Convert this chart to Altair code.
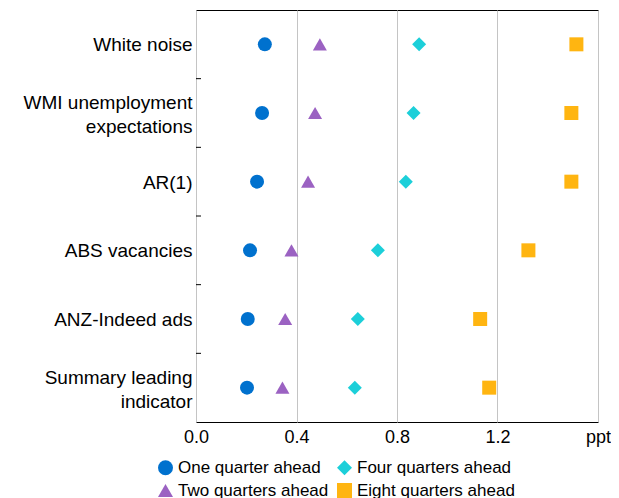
import altair as alt
import pandas as pd

# ---- data ----
categories = [
    "White noise",
    "WMI unemployment expectations",
    "AR(1)",
    "ABS vacancies",
    "ANZ-Indeed ads",
    "Summary leading indicator",
]
one_quarter = [0.274, 0.263, 0.243, 0.215, 0.206, 0.203]
two_quarters = [0.493, 0.474, 0.446, 0.380, 0.355, 0.344]
four_quarters = [0.888, 0.866, 0.835, 0.724, 0.644, 0.632]
eight_quarters = [1.514, 1.494, 1.494, 1.323, 1.131, 1.167]

series_names = ["One quarter ahead", "Two quarters ahead", "Four quarters ahead", "Eight quarters ahead"]
series_colors = ["#0071CE", "#9B62C2", "#1CCFD9", "#FFB511"]
series_shapes = ["circle", "triangle-up", "diamond", "square"]
x_ticks = [0.0, 0.4, 0.8, 1.2, 1.6]
x_unit = "ppt"
chart_title = "Models containing only the specified variable"

rows = []
for name, vals in zip(series_names, [one_quarter, two_quarters, four_quarters, eight_quarters]):
    for cat, v in zip(categories, vals):
        rows.append({"category": cat, "series": name, "value": v})
df = pd.DataFrame(rows)

tick_df = pd.DataFrame({"category": categories[1:]})

label_expr = (
    "datum.label == 'WMI unemployment expectations' ? ['WMI unemployment\u00a0', 'expectations'] : "
    "datum.label == 'Summary leading indicator' ? ['Summary leading\u00a0', 'indicator'] : datum.label"
)
multiline_test = "datum.value == 'WMI unemployment expectations' || datum.value == 'Summary leading indicator'"

FONT = "Liberation Sans"

y_axis = alt.Axis(
    title=None,
    labelFontSize=19,
    labelFont=FONT,
    labelColor="black",
    ticks=False,
    domain=False,
    labelPadding=4,
    labelLimit=300,
    labelLineHeight=24,
    labelExpr=label_expr,
    labelOffset={"condition": {"test": multiline_test, "value": -10}, "value": 1},
)
y_scale = alt.Scale(paddingInner=0, paddingOuter=0)

x_enc = alt.X(
    "value:Q",
    scale=alt.Scale(domain=[0, 1.6], nice=False, zero=False),
    axis=alt.Axis(
        values=x_ticks,
        title=None,
        labelExpr=f"datum.value >= 1.6 ? '{x_unit}' : format(datum.value, '.1f')",
        grid=True,
        gridColor="#c4c4c4",
        gridWidth=1,
        ticks=False,
        domain=False,
        labelFontSize=18,
        labelFont=FONT,
        labelColor="black",
        labelPadding=6,
        labelFlush=False,
        labelOverlap=False,
    ),
)

points = alt.Chart(df).mark_point(filled=True, opacity=1, size=196, strokeWidth=0).encode(
    x=x_enc,
    y=alt.Y("category:N", sort=categories, scale=y_scale, axis=y_axis),
    color=alt.Color(
        "series:N",
        scale=alt.Scale(domain=series_names, range=series_colors),
        legend=alt.Legend(
            orient="none",
            legendX=-39,
            legendY=449,
            columns=2,
            title=None,
            symbolSize=225,
            symbolStrokeWidth=0,
            symbolOpacity=1,
            labelFontSize=17,
            labelFont=FONT,
            labelColor="black",
            labelOffset=4,
            columnPadding=7,
            rowPadding=5,
            padding=0,
            labelLimit=300,
        ),
    ),
    shape=alt.Shape("series:N", scale=alt.Scale(domain=series_names, range=series_shapes)),
)

y_ticks = alt.Chart(tick_df).mark_rule(color="black", strokeWidth=1).encode(
    y=alt.Y("category:N", sort=categories, bandPosition=0, scale=y_scale, axis=y_axis),
    x=alt.value(0),
    x2=alt.value(5),
)

chart = (
    alt.layer(points, y_ticks)
    .properties(
        width=402,
        height=412,
        title=alt.TitleParams(
            chart_title, fontSize=18, font=FONT, fontWeight="normal", color="black", offset=5, anchor="middle"
        ),
        autosize=alt.AutoSizeParams(type="none"),
        padding={"left": 188, "top": 2, "right": 13, "bottom": 76},
    )
    .configure_view(stroke="black", strokeWidth=1)
)

chart.save("out.html", embed_options={"renderer": "svg", "actions": False})
